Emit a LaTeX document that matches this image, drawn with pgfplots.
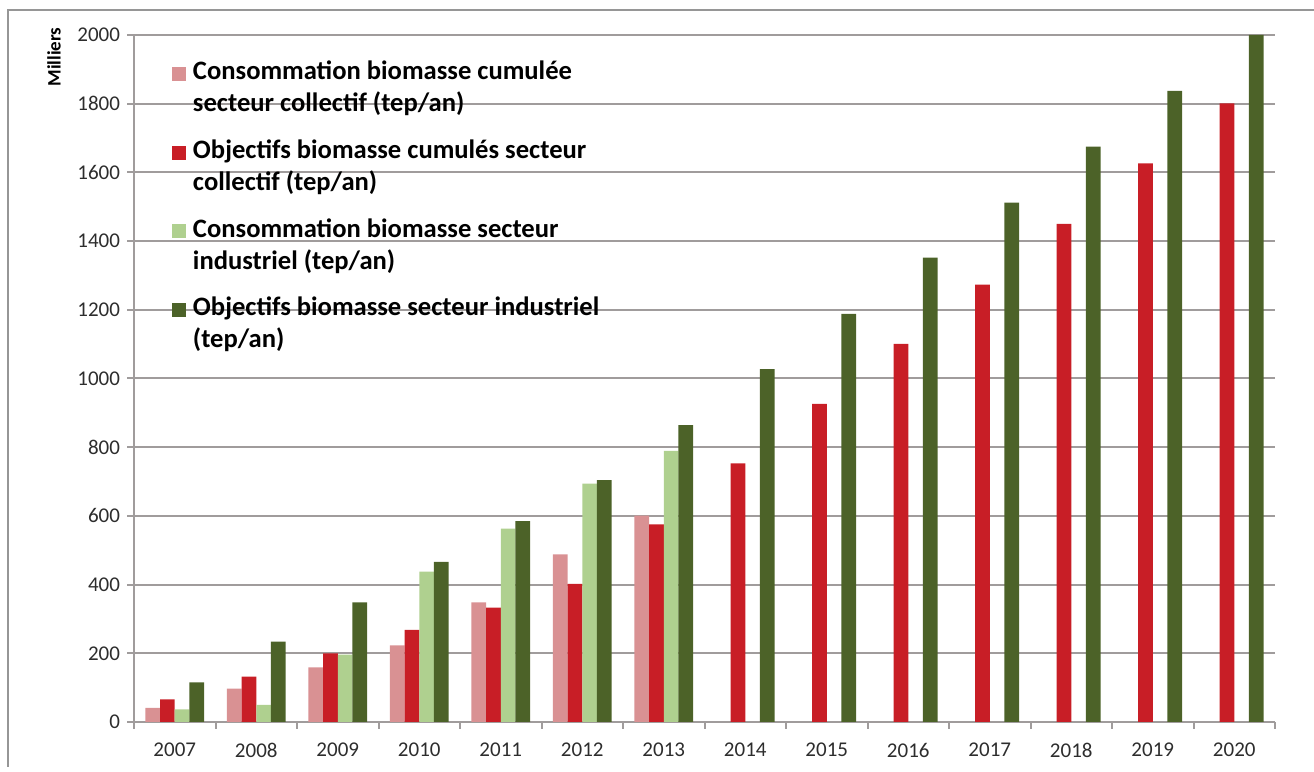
\documentclass[border=0pt]{standalone}
\usepackage{fontspec}
\setmainfont{Carlito}
\usepackage{pgfplots}
\pgfplotsset{compat=1.18}
\definecolor{cpink}{RGB}{217,145,147}
\definecolor{cred}{RGB}{200,30,38}
\definecolor{clgreen}{RGB}{175,208,143}
\definecolor{cdgreen}{RGB}{76,98,40}
\definecolor{cgrid}{RGB}{160,156,156}
\definecolor{ctext}{RGB}{45,45,45}
\definecolor{cframe}{RGB}{150,150,150}
\begin{document}
\begin{tikzpicture}
\useasboundingbox (0,0) rectangle (657pt,386pt);
\draw[line width=1pt, cframe] (657pt,381pt) -- (4pt,381pt) -- (4pt,2.5pt);
\node[rotate=90, font=\fontsize{9.5}{11}\selectfont\bfseries, text=black] at (27pt,357.5pt) {Milliers};
\begin{axis}[
  at={(67pt,25pt)}, anchor=south west, scale only axis,
  width=570.5pt, height=343.5pt,
  xmin=-0.5, xmax=13.5, ymin=0, ymax=2000,
  ybar=0pt, bar width=0.18,
  axis x line*=bottom, axis y line*=left,
  axis line style={cgrid, line width=1pt, -},
  xtick={-0.5,0.5,1.5,2.5,3.5,4.5,5.5,6.5,7.5,8.5,9.5,10.5,11.5,12.5,13.5},
  x tick label as interval,
  xticklabels={2007,2008,2009,2010,2011,2012,2013,2014,2015,2016,2017,2018,2019,2020},
  xticklabel style={yshift=-3.5pt},
  ytick={0,200,...,2000},
  ymajorgrids, grid style={cgrid, line width=1pt},
  tick align=outside, major tick length=3.5pt,
  tick style={cgrid, line width=1pt},
  ticklabel style={font=\fontsize{10.5}{12}\selectfont, text=ctext},
  /pgf/number format/assume math mode=true,
  /pgf/number format/1000 sep={},
  legend style={at={(axis description cs:0.0333,0.962)}, anchor=north west,
    draw=none, fill=none, inner sep=0pt, outer sep=0pt,
    row sep=28.5pt, column sep=3.5pt,
    font=\fontsize{13.3}{16}\selectfont\bfseries,
    nodes={inner sep=0pt, outer sep=0pt},
    cells={anchor=base west}},
  legend image code/.code={\fill[#1] (0pt,-0.5pt) rectangle (7pt,6.5pt);},
]
\addplot[fill=cpink, draw=none] coordinates {(0,41) (1,97) (2,159) (3,223) (4,348) (5,488) (6,601)};
\addplot[fill=cred, draw=none] coordinates {(0,66) (1,132) (2,200) (3,268) (4,333) (5,402) (6,575) (7,753) (8,926) (9,1101) (10,1273) (11,1450) (12,1626) (13,1801)};
\addplot[fill=clgreen, draw=none] coordinates {(0,37) (1,50) (2,196) (3,438) (4,563) (5,694) (6,789)};
\addplot[fill=cdgreen, draw=none] coordinates {(0,115) (1,234) (2,348) (3,466) (4,585) (5,704) (6,864) (7,1027) (8,1188) (9,1352) (10,1512) (11,1675) (12,1837) (13,2000)};
\addlegendentry{\parbox[t]{260pt}{\raggedright Consommation biomasse cumulée\\secteur collectif (tep/an)}}
\addlegendentry{\parbox[t]{260pt}{\raggedright Objectifs biomasse cumulés secteur\\collectif (tep/an)}}
\addlegendentry{\parbox[t]{260pt}{\raggedright Consommation biomasse secteur\\industriel (tep/an)}}
\addlegendentry{\parbox[t]{260pt}{\raggedright Objectifs biomasse secteur industriel\\(tep/an)}}
\end{axis}
\end{tikzpicture}
\end{document}
